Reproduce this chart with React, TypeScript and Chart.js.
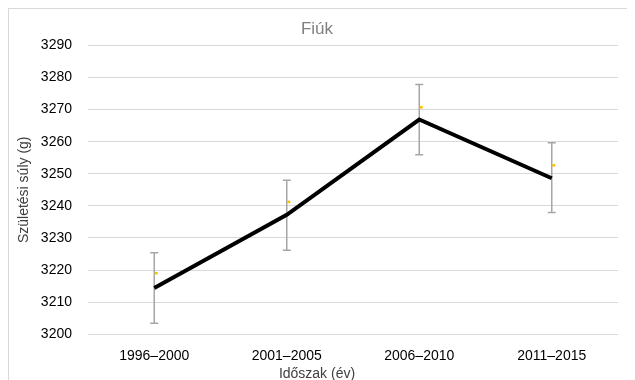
import React, { useEffect, useRef } from "react";
import { Chart, registerables } from "chart.js";

Chart.register(...registerables);

const categories = ["1996–2000", "2001–2005", "2006–2010", "2011–2015"];
const meanWeights = [3214.4, 3237.2, 3266.9, 3248.6];
const errorLow = [3203.4, 3226.2, 3255.9, 3237.9];
const errorHigh = [3225.4, 3248.0, 3277.8, 3259.7];
const markerValues = [3219.1, 3241.3, 3270.8, 3252.7];
const yTicks = [3200, 3210, 3220, 3230, 3240, 3250, 3260, 3270, 3280, 3290];

const FONT = "'Liberation Sans', Arial, sans-serif";

const errorBarPlugin = {
  id: "errorBars",
  beforeDatasetsDraw(chart: any) {
    const ctx = chart.ctx;
    const x = chart.scales.x;
    const y = chart.scales.y;
    ctx.save();
    ctx.strokeStyle = "#a6a6a6";
    ctx.lineWidth = 1.5;
    for (let i = 0; i < categories.length; i++) {
      const px = x.getPixelForValue(i);
      const pLo = y.getPixelForValue(errorLow[i]);
      const pHi = y.getPixelForValue(errorHigh[i]);
      ctx.beginPath();
      ctx.moveTo(px, pLo);
      ctx.lineTo(px, pHi);
      ctx.moveTo(px - 4, pLo);
      ctx.lineTo(px + 4, pLo);
      ctx.moveTo(px - 4, pHi);
      ctx.lineTo(px + 4, pHi);
      ctx.stroke();
    }
    ctx.fillStyle = "#ffc000";
    for (let i = 0; i < categories.length; i++) {
      const px = x.getPixelForValue(i) + 2;
      const py = y.getPixelForValue(markerValues[i]);
      ctx.fillRect(px - 1.5, py - 1, 3, 2.5);
    }
    ctx.restore();
  },
};

export default function App() {
  const ref = useRef<HTMLCanvasElement | null>(null);
  useEffect(() => {
    document.body.style.overflow = "hidden";
    const chart = new Chart(ref.current as HTMLCanvasElement, {
      type: "line",
      data: {
        labels: categories,
        datasets: [
          {
            data: meanWeights,
            borderColor: "#000000",
            borderWidth: 4,
            pointRadius: 0,
            tension: 0,
            fill: false,
          },
        ],
      },
      options: {
        animation: false,
        responsive: false,
        layout: { padding: { left: 8, right: 34, top: 0, bottom: 0 } },
        plugins: {
          legend: { display: false },
          tooltip: { enabled: false },
          title: {
            display: true,
            text: "Fiúk",
            color: "#808080",
            font: { family: FONT, size: 17, weight: "normal" },
            padding: { top: 11, bottom: 6 },
          },
          subtitle: {
            display: true,
            position: "bottom",
            text: "Időszak (év)",
            color: "#404040",
            font: { family: FONT, size: 14, weight: "normal" },
            padding: { top: 3, bottom: -3 },
          },
        },
        scales: {
          x: {
            type: "category",
            offset: true,
            afterFit: (s: any) => {
              s.height = 29;
            },
            grid: { display: false },
            border: { display: false },
            ticks: {
              color: "#000000",
              font: { family: FONT, size: 14 },
              padding: 6,
              maxRotation: 0,
            },
          },
          y: {
            min: 3200,
            max: 3290,
            afterFit: (s: any) => {
              s.width = 72;
            },
            afterBuildTicks: (s: any) => {
              s.ticks = yTicks.map((v) => ({ value: v }));
            },
            grid: { color: "#d9d9d9", lineWidth: 1, drawTicks: false },
            border: { display: false },
            ticks: {
              color: "#000000",
              font: { family: FONT, size: 14 },
              padding: 16,
              callback: (v: any) => String(v),
            },
            title: {
              display: true,
              text: "Születési súly (g)",
              color: "#404040",
              font: { family: FONT, size: 14 },
              padding: 0,
            },
          },
        },
      },
      plugins: [errorBarPlugin],
    });
    return () => chart.destroy();
  }, []);
  return (
    <div
      style={{
        width: 627,
        height: 372,
        overflow: "hidden",
        borderLeft: "1px solid #d9d9d9",
        borderTop: "1px solid #d9d9d9",
        boxSizing: "border-box",
      }}
    >
      <canvas ref={ref} width={644} height={372} style={{ display: "block", marginTop: -1, marginLeft: -1 }} />
    </div>
  );
}
